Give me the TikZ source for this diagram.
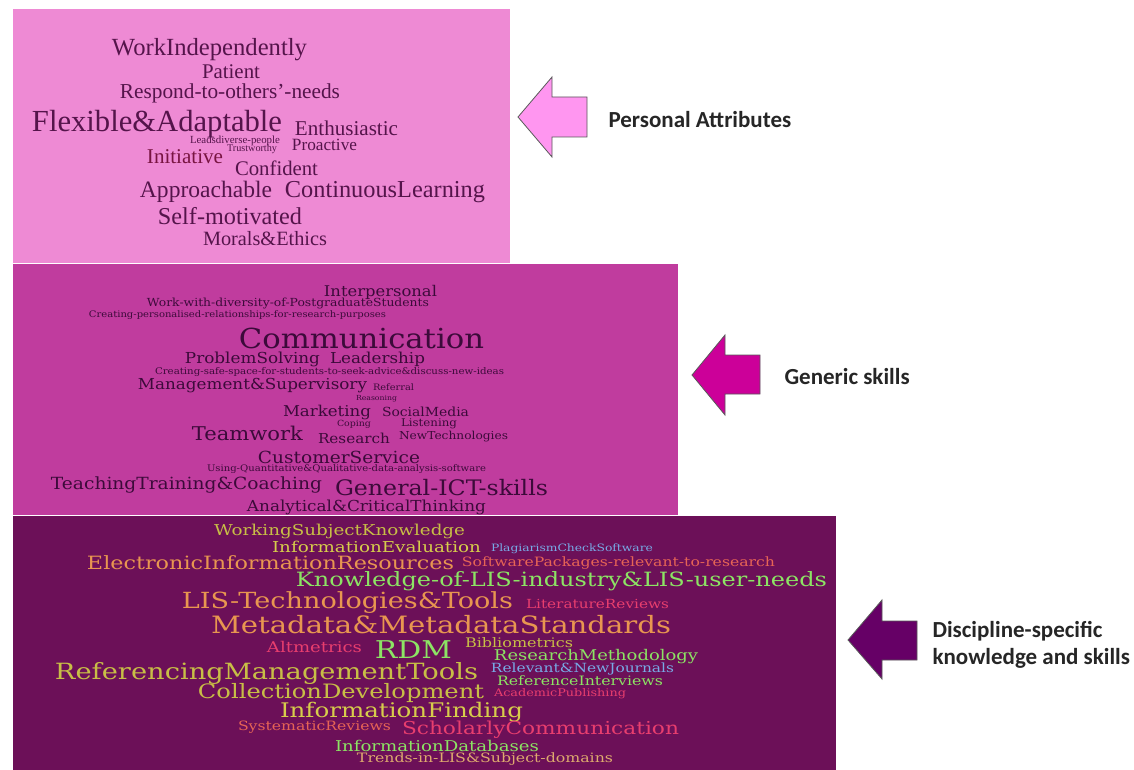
\documentclass[tikz,border=0pt]{standalone}
\usepackage{fontspec}
\usepackage{graphicx}
\usepackage{xcolor}
\setmainfont{Liberation Serif}
\newfontfamily\cloudfont{DejaVu Serif}
\newfontfamily\labelfont{Carlito}
\usetikzlibrary{positioning}

\definecolor{toppink}{RGB}{238,138,212}
\definecolor{midmag}{RGB}{192,60,158}
\definecolor{lowpurple}{RGB}{108,16,88}
\definecolor{tword}{RGB}{85,20,75}
\definecolor{tred}{RGB}{120,20,65}
\definecolor{mword}{RGB}{60,10,58}
\definecolor{olive}{RGB}{200,190,70}
\definecolor{yell}{RGB}{215,205,75}
\definecolor{orng}{RGB}{232,150,80}
\definecolor{orred}{RGB}{230,100,85}
\definecolor{grn}{RGB}{140,228,100}
\definecolor{pkred}{RGB}{232,62,110}
\definecolor{ltblue}{RGB}{120,170,230}
\definecolor{tan}{RGB}{222,170,110}
\definecolor{arrowA}{RGB}{255,150,240}
\definecolor{arrowB}{RGB}{204,0,153}
\definecolor{arrowC}{RGB}{102,0,102}

% one word of the cloud: name, x, y, width, colour, text
\newcommand{\cloudsqueeze}{1}
\newcommand{\cloudword}[6]{\node[word, text=#5] (#1) at (#2,#3) {\scalebox{1}[\cloudsqueeze]{\resizebox{#4pt}{!}{#6}}};}

\begin{document}
\begin{tikzpicture}[
    x=1pt, y=-1pt,
    word/.style={inner sep=0pt, anchor=center},
    band/.style={draw=white, line width=0.6pt},
    blockarrow/.style={draw=black!65, line width=0.8pt, line join=miter},
    caption/.style={anchor=west, align=left, text=black!85, font=\labelfont\bfseries\fontsize{23}{27}\selectfont}
]
    \useasboundingbox (0,0) rectangle (1134,770);
    \fill[white] (0,0) rectangle (1134,770);

    % bands
    \filldraw[band, fill=lowpurple] (12,515) rectangle (836,770);
    \filldraw[band, fill=midmag] (12,263) rectangle (678,515);
    \filldraw[band, fill=toppink] (12,8) rectangle (510,263);

    % personal attributes
    \cloudword{wi}{209.5}{50}{195}{tword}{WorkIndependently}
    \cloudword{pat}{231}{72}{58}{tword}{Patient}
    \cloudword{resp}{230}{93}{220}{tword}{Respond-to-others'-needs}
    \cloudword{flex}{157}{124}{250}{tword}{Flexible\&Adaptable}
    \cloudword{enth}{346.5}{128}{103}{tword}{Enthusiastic}
    \cloudword{lds}{235}{141}{90}{tword}{Leadsdiverse-people}
    \cloudword{trust}{252}{149}{50}{tword}{Trustworthy}
    \cloudword{pro}{324.5}{145}{65}{tword}{Proactive}
    \cloudword{init}{185}{157}{76}{tred}{Initiative}
    \cloudword{conf}{276.5}{168}{83}{tword}{Confident}
    \cloudword{appr}{206}{192}{132}{tword}{Approachable}
    \cloudword{cont}{385}{192}{200}{tword}{ContinuousLearning}
    \cloudword{self}{230}{216}{144}{tword}{Self-motivated}
    \cloudword{mor}{265}{239}{124}{tword}{Morals\&Ethics}

    % generic skills
    \begin{scope}[word/.append style={font=\cloudfont}]
    \renewcommand{\cloudsqueeze}{0.9}
    \cloudword{inter}{380.5}{292}{113}{mword}{Interpersonal}
    \cloudword{divers}{288}{304}{282}{mword}{Work-with-diversity-of-PostgraduateStudents}
    \cloudword{rel}{237.5}{315}{297}{mword}{Creating-personalised-relationships-for-research-purposes}
    \cloudword{comm}{361.5}{338}{245}{mword}{Communication}
    \cloudword{prob}{252.5}{359}{135}{mword}{ProblemSolving}
    \cloudword{lead}{377.5}{359}{95}{mword}{Leadership}
    \cloudword{safe}{329.5}{372}{349}{mword}{Creating-safe-space-for-students-to-seek-advice\&discuss-new-ideas}
    \cloudword{mgmt}{252.5}{386}{229}{mword}{Management\&Supervisory}
    \cloudword{refl}{393.5}{387}{41}{mword}{Referral}
    \cloudword{reas}{376.5}{399}{41}{mword}{Reasoning}
    \cloudword{mkt}{327}{412}{88}{mword}{Marketing}
    \cloudword{soc}{425.5}{412}{87}{mword}{SocialMedia}
    \cloudword{cop}{354}{424}{34}{mword}{Coping}
    \cloudword{lis}{429}{424}{56}{mword}{Listening}
    \cloudword{team}{247.5}{433}{111}{mword}{Teamwork}
    \cloudword{res}{354}{438}{72}{mword}{Research}
    \cloudword{newt}{453.5}{437}{109}{mword}{NewTechnologies}
    \cloudword{cust}{339}{457}{162}{mword}{CustomerService}
    \cloudword{quant}{346.5}{469}{279}{mword}{Using-Quantitative\&Qualitative-data-analysis-software}
    \cloudword{teach}{186.5}{485}{271}{mword}{TeachingTraining\&Coaching}
    \cloudword{ict}{441.5}{488}{213}{mword}{General-ICT-skills}
    \cloudword{anal}{366.5}{507}{239}{mword}{Analytical\&CriticalThinking}
    \end{scope}

    % discipline-specific knowledge and skills
    \begin{scope}[word/.append style={font=\cloudfont}]
    \renewcommand{\cloudsqueeze}{0.82}
    \cloudword{wsk}{339.5}{531}{251}{olive}{WorkingSubjectKnowledge}
    \cloudword{ieval}{376.5}{547}{209}{yell}{InformationEvaluation}
    \cloudword{plag}{572}{549}{162}{ltblue}{PlagiarismCheckSoftware}
    \cloudword{eir}{270.5}{563}{367}{orng}{ElectronicInformationResources}
    \cloudword{swp}{618.5}{563}{313}{orred}{SoftwarePackages-relevant-to-research}
    \cloudword{kol}{561.5}{581}{531}{grn}{Knowledge-of-LIS-industry\&LIS-user-needs}
    \cloudword{list}{347.5}{603}{331}{orng}{LIS-Technologies\&Tools}
    \cloudword{litr}{597.5}{604}{143}{pkred}{LiteratureReviews}
    \cloudword{meta}{441}{625}{460}{orng}{Metadata\&MetadataStandards}
    \cloudword{alt}{314.5}{647}{95}{pkred}{Altmetrics}
    \cloudword{rdm}{413.5}{650}{77}{grn}{RDM}
    \cloudword{bib}{519}{643}{108}{olive}{Bibliometrics}
    \cloudword{rm}{596}{657}{204}{grn}{ResearchMethodology}
    \cloudword{rmt}{266.5}{673}{423}{olive}{ReferencingManagementTools}
    \cloudword{rnj}{582.5}{669}{183}{ltblue}{Relevant\&NewJournals}
    \cloudword{refi}{580}{681}{166}{grn}{ReferenceInterviews}
    \cloudword{cd}{341}{693}{286}{olive}{CollectionDevelopment}
    \cloudword{acad}{560}{694}{132}{pkred}{AcademicPublishing}
    \cloudword{inf}{401.5}{712}{243}{yell}{InformationFinding}
    \cloudword{sys}{314.5}{727}{153}{orred}{SystematicReviews}
    \cloudword{scc}{540.5}{730}{277}{pkred}{ScholarlyCommunication}
    \cloudword{idb}{437}{746}{204}{grn}{InformationDatabases}
    \cloudword{trend}{485}{759}{256}{tan}{Trends-in-LIS\&Subject-domains}
    \end{scope}

    % arrows
    \filldraw[blockarrow, fill=arrowA] (518,117) -- (552,77) -- (552,97) -- (587,97) -- (587,137) -- (552,137) -- (552,157) -- cycle;
    \filldraw[blockarrow, fill=arrowB] (692,375) -- (725,335) -- (725,355) -- (760,355) -- (760,394) -- (725,394) -- (725,415) -- cycle;
    \filldraw[blockarrow, fill=arrowC] (848,640) -- (882,600) -- (882,621) -- (917,621) -- (917,660) -- (882,660) -- (882,679) -- cycle;

    % captions
    \node[caption] (pa) at (605,120) {Personal Attributes};
    \node[caption] (gs) at (781,377) {Generic skills};
    \node[caption] (ds) at (929,645) {Discipline-specific\\knowledge and skills};
\end{tikzpicture}
\end{document}
